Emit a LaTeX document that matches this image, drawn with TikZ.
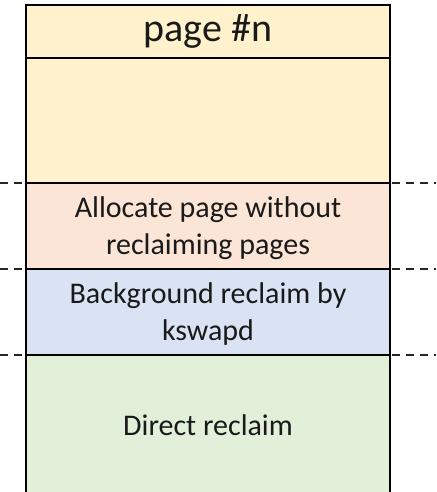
\documentclass[tikz,border=0pt]{standalone}
\usepackage{fontspec}
\setmainfont{Carlito}
\definecolor{zoneYellow}{HTML}{FFF2CC}
\definecolor{zoneOrange}{HTML}{FBE5D6}
\definecolor{zoneBlue}{HTML}{DAE3F3}
\definecolor{zoneGreen}{HTML}{E2F0D9}
\definecolor{inkText}{HTML}{1A1A1A}
\tikzset{
  boxline/.style={line width=2pt, draw=black},
  levelline/.style={line width=1.8pt, draw=black!85, dash pattern=on 8pt off 6pt},
  zonetext/.style={text=inkText, align=center, font=\fontsize{30}{37}\selectfont},
  titletext/.style={text=inkText, font=\fontsize{40}{46}\selectfont},
}
\begin{document}
\begin{tikzpicture}[x=1pt, y=-1pt]
  \useasboundingbox (0,0) rectangle (436,492);
  % zone fills
  \fill[zoneYellow] (26,5) rectangle (390,183);
  \fill[zoneOrange] (26,183) rectangle (390,269);
  \fill[zoneBlue]   (26,269) rectangle (390,355);
  \fill[zoneGreen]  (26,355) rectangle (390,492);
  % watermark levels, dashed across the whole width
  \draw[levelline] (0,183) -- (436,183);
  \draw[levelline] (0,269) -- (436,269);
  \draw[levelline] (0,355) -- (436,355);
  % zone separators inside the page
  \draw[boxline, line width=1.2pt] (26,183) -- (390,183);
  \draw[boxline] (26,269) -- (390,269);
  \draw[boxline] (26,355) -- (390,355);
  \draw[boxline] (26,58) -- (390,58);
  % page outline
  \draw[boxline] (26,5) rectangle (390,492.5);
  % labels
  \node[titletext] (title) at (208,31) {page \#n};
  \node[zonetext] (low) at (208,228) {Allocate page without\\reclaiming pages};
  \node[zonetext] (min) at (208,314) {Background reclaim by\\kswapd};
  \node[zonetext] (direct) at (208,425) {Direct reclaim};
\end{tikzpicture}
\end{document}
